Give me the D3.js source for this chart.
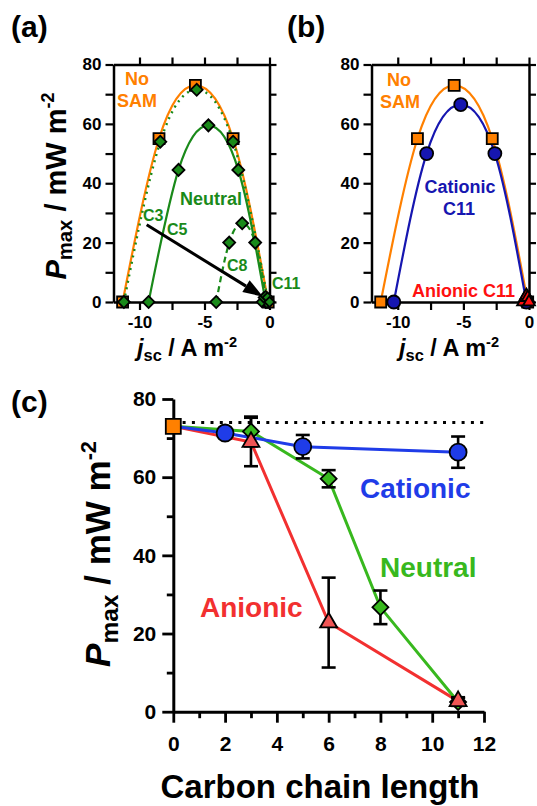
<!DOCTYPE html>
<html>
<head>
<meta charset="utf-8">
<script src="https://cdn.jsdelivr.net/npm/d3@7"></script>
<style>
body { margin: 0; background: #fff; }
svg text { font-family: "Liberation Sans", Arial, Helvetica, sans-serif; font-weight: bold; }
</style>
</head>
<body>
<svg id="fig" width="537" height="806"></svg>
<script>
// ---- panel (a) / (b): power curves, j in A m-2, P in mW m-2
var noSamJ = [-11.3, -8.5, -5.7, -2.8, -0.1];
var noSamP = [0, 55, 73, 55, 0];
var c3J = [-11.2, -8.4, -5.6, -2.8, -0.1];
var c3P = [0, 54, 71.5, 54, 0];
var c5J = [-9.3, -7.0, -4.7, -2.4, -0.3];
var c5P = [0, 44.5, 59.5, 44.5, 0];
var c8J = [-4.1, -3.1, -2.1, -1.1, -0.2];
var c8P = [0, 20, 26.5, 20, 0];
var c11J = [-0.6, -0.45, -0.3, -0.15, 0];
var c11P = [0, 1.5, 2, 1.5, 0];
var catC11J = [-10.3, -7.8, -5.2, -2.6, -0.2];
var catC11P = [0, 50, 66.5, 50, 0];
var anC11J = [-0.45, -0.3, -0.2, -0.1, 0];
var anC11P = [0, 1.5, 2.2, 1.5, 0];

// ---- panel (c): Pmax vs carbon chain length
var noSamC = [0];
var noSamMax = [73];
var catC = [0, 2, 5, 11];
var catMax = [73, 71.3, 67.8, 66.4];
var catErr = [0, 1, 3, 4];
var neuC = [0, 3, 6, 8, 11];
var neuMax = [73, 71.7, 59.6, 26.7, 2.5];
var neuErr = [0, 3.8, 2.2, 4.3, 1];
var anC = [0, 3, 6, 11];
var anMax = [73, 69, 22.8, 2.7];
var anErr = [0, 6.2, 11.5, 1];
var noSamRef = 74;

var yTicksAB = [0, 10, 20, 30, 40, 50, 60, 70, 80];
var xTicksAB = [-10, -7.5, -5, -2.5, 0];
var yTicksC = [0, 10, 20, 30, 40, 50, 60, 70, 80];
var xTicksC = [0, 1, 2, 3, 4, 5, 6, 7, 8, 9, 10, 11, 12];

var ORANGE = '#ff8000', GREEN_A = '#1a8a1a', BLUE_B = '#1616b0', RED_B = '#ff1010';
var BLUE_C = '#1f3ce8', GREEN_C = '#38b81e', RED_C = '#f23030', RED_FILL = '#f05555';

var svg = d3.select('#fig');

function zip(a, b) { return a.map(function(v, i) { return [v, b[i]]; }); }

function drawMarkers(g, pts, x, y, kind, size, fill) {
	var sym;
	if (kind == 'square') sym = d3.symbol().type(d3.symbolSquare).size(size * size);
	else if (kind == 'diamond') sym = d3.symbol().type(d3.symbolSquare).size(size * size / 2);
	else if (kind == 'circle') sym = d3.symbol().type(d3.symbolCircle).size(Math.PI * size * size / 4);
	else sym = d3.symbol().type(d3.symbolTriangle).size(size * size * 0.43);
	g.selectAll(null)
		.data(pts)
		.enter()
		.append('path')
		.attr('d', sym)
		.attr('transform', function(d) {
			return 'translate(' + x(d[0]) + ',' + y(d[1]) + ')' + (kind == 'diamond' ? ' rotate(45)' : '');
		})
		.attr('fill', fill)
		.attr('stroke', '#000')
		.attr('stroke-width', 1.8);
}

function drawCurve(g, pts, x, y, color, dash, width) {
	var line = d3.line()
		.x(function(d) { return x(d[0]); })
		.y(function(d) { return y(d[1]); })
		.curve(d3.curveNatural);
	g.append('path')
		.datum(pts)
		.attr('d', line)
		.attr('fill', 'none')
		.attr('stroke', color)
		.attr('stroke-width', width || 2)
		.attr('stroke-dasharray', dash || null);
}

// box frame with outward ticks on all four sides
function framePanel(g, x, y, showY) {
	var fmt = function(d) { return d % 5 == 0 ? String(d) : ''; };
	var fmtY = function(d) { return showY && d % 20 == 0 ? String(d) : ''; };
	var bottom = g.append('g').attr('transform', 'translate(0,' + y(0) + ')')
		.call(d3.axisBottom(x).tickValues(xTicksAB).tickFormat(fmt).tickSize(8).tickSizeOuter(0).tickPadding(6));
	var top = g.append('g').attr('transform', 'translate(0,' + y(80) + ')')
		.call(d3.axisTop(x).tickValues(xTicksAB).tickFormat('').tickSize(7).tickSizeOuter(0));
	var left = g.append('g').attr('transform', 'translate(' + x(-12) + ',0)')
		.call(d3.axisLeft(y).tickValues(yTicksAB).tickFormat(fmtY).tickSize(8).tickSizeOuter(0).tickPadding(4));
	var right = g.append('g').attr('transform', 'translate(' + x(0) + ',0)')
		.call(d3.axisRight(y).tickValues(yTicksAB).tickFormat('').tickSize(7).tickSizeOuter(0));
	[bottom, top, left, right].forEach(function(a) {
		a.selectAll('path.domain').attr('stroke-width', 2.5).attr('stroke', '#000');
		a.selectAll('line').attr('stroke-width', 2.2).attr('stroke', '#000');
		a.selectAll('text').attr('font-size', 17).attr('font-family', null).attr('fill', '#000');
	});
}

function yTitle(g, tx, ty, size) {
	var t = g.append('text')
		.attr('transform', 'translate(' + tx + ',' + ty + ') rotate(-90)')
		.attr('text-anchor', 'middle')
		.attr('font-size', size);
	t.append('tspan').attr('font-style', 'italic').text('P');
	t.append('tspan').attr('font-size', size * 0.7).attr('dy', size * 0.22).text('max');
	t.append('tspan').attr('dy', -size * 0.22).text(' / mW m');
	t.append('tspan').attr('font-size', size * 0.62).attr('dy', -size * 0.4).text('-2');
}

function jTitle(g, tx, ty, size) {
	var t = g.append('text')
		.attr('x', tx).attr('y', ty)
		.attr('text-anchor', 'middle')
		.attr('font-size', size);
	t.append('tspan').attr('font-style', 'italic').text('j');
	t.append('tspan').attr('font-size', size * 0.7).attr('dy', size * 0.22).text('sc');
	t.append('tspan').attr('dy', -size * 0.22).text(' / A m');
	t.append('tspan').attr('font-size', size * 0.62).attr('dy', -size * 0.4).text('-2');
}

function label(g, tx, ty, txt, size, color, anchor, weight) {
	g.append('text')
		.attr('x', tx).attr('y', ty)
		.attr('font-size', size)
		.attr('fill', color)
		.attr('text-anchor', anchor || 'start')
		.attr('font-weight', weight || 'bold')
		.text(txt);
}

// ================= panel (a)
var xa = d3.scaleLinear().domain([-12, 0]).range([113.5, 269.5]);
var ya = d3.scaleLinear().domain([0, 80]).range([302, 64.5]);
var ga = svg.append('g');
framePanel(ga, xa, ya, true);
drawCurve(ga, zip(noSamJ, noSamP), xa, ya, ORANGE, null, 2.2);
drawCurve(ga, zip(c3J, c3P), xa, ya, GREEN_A, '2,4.5', 2.4);
drawCurve(ga, zip(c5J, c5P), xa, ya, GREEN_A, null, 2.2);
drawCurve(ga, zip(c8J, c8P), xa, ya, GREEN_A, '6,4', 2.2);
drawCurve(ga, zip(c11J, c11P), xa, ya, GREEN_A, '3,2', 1.5);

// arrow C3 -> C11
var arrFrom = [-9.45, 26], arrTo = [-0.5, 1.8];
var ax1 = xa(arrFrom[0]), ay1 = ya(arrFrom[1]), ax2 = xa(arrTo[0]), ay2 = ya(arrTo[1]);
var ang = Math.atan2(ay2 - ay1, ax2 - ax1);
var headL = 20, headW = 7;
var bx = ax2 - headL * Math.cos(ang), by = ay2 - headL * Math.sin(ang);
ga.append('line').attr('x1', ax1).attr('y1', ay1).attr('x2', bx).attr('y2', by)
	.attr('stroke', '#000').attr('stroke-width', 3);
ga.append('path')
	.attr('d', 'M' + ax2 + ',' + ay2 +
		'L' + (bx + headW * Math.sin(ang)) + ',' + (by - headW * Math.cos(ang)) +
		'L' + (bx - headW * Math.sin(ang)) + ',' + (by + headW * Math.cos(ang)) + 'Z')
	.attr('fill', '#000');

drawMarkers(ga, zip(noSamJ, noSamP), xa, ya, 'square', 11, ORANGE);
drawMarkers(ga, zip(c3J, c3P), xa, ya, 'diamond', 12, GREEN_A);
drawMarkers(ga, zip(c5J, c5P), xa, ya, 'diamond', 12, GREEN_A);
drawMarkers(ga, zip(c8J, c8P), xa, ya, 'diamond', 12, GREEN_A);
drawMarkers(ga, zip(c11J, c11P), xa, ya, 'diamond', 10, GREEN_A);

label(ga, 137, 85, 'No', 18, ORANGE, 'middle');
label(ga, 137, 107, 'SAM', 18, ORANGE, 'middle');
label(ga, 180, 205, 'Neutral', 18, GREEN_A);
label(ga, 143, 221, 'C3', 16, GREEN_A, 'start', 'normal');
label(ga, 167, 235, 'C5', 16, GREEN_A, 'start', 'normal');
label(ga, 227, 271, 'C8', 16, GREEN_A, 'start', 'normal');
label(ga, 272, 289, 'C11', 16, GREEN_A, 'start', 'normal');

yTitle(ga, 66, 186, 29);
jTitle(ga, 187, 356, 23.5);

// ================= panel (b)
var xb = d3.scaleLinear().domain([-12, 0]).range([371.5, 529]);
var yb = ya;
var gb = svg.append('g');
framePanel(gb, xb, yb, true);
drawCurve(gb, zip(noSamJ, noSamP), xb, yb, ORANGE, null, 2.2);
drawCurve(gb, zip(catC11J, catC11P), xb, yb, BLUE_B, null, 2.2);
drawCurve(gb, zip(anC11J, anC11P), xb, yb, RED_B, '3,2', 1.5);
drawMarkers(gb, zip(noSamJ, noSamP), xb, yb, 'square', 11, ORANGE);
drawMarkers(gb, zip(catC11J, catC11P), xb, yb, 'circle', 13, BLUE_B);
drawMarkers(gb, zip(anC11J, anC11P), xb, yb, 'triangle', 12, RED_B);

label(gb, 399, 86, 'No', 18, ORANGE, 'middle');
label(gb, 400, 108, 'SAM', 18, ORANGE, 'middle');
label(gb, 460, 193, 'Cationic', 18, BLUE_B, 'middle');
label(gb, 459, 215, 'C11', 18, BLUE_B, 'middle');
label(gb, 412, 297, 'Anionic C11', 18, RED_B);
jTitle(gb, 449, 356, 23.5);

// ================= panel (c)
var xc = d3.scaleLinear().domain([0, 12]).range([173.3, 484]);
var yc = d3.scaleLinear().domain([0, 80]).range([711.7, 399]);
var gc = svg.append('g');

var axB = gc.append('g').attr('transform', 'translate(0,' + yc(0) + ')')
	.call(d3.axisBottom(xc).tickValues(xTicksC).tickFormat(function(d) { return d % 2 == 0 ? String(d) : ''; })
		.tickSize(11).tickSizeOuter(0).tickPadding(13));
axB.selectAll('.tick').filter(function(d) { return d % 2 == 1; }).select('line').attr('y2', 6.5);
var axL = gc.append('g').attr('transform', 'translate(' + xc(0) + ',0)')
	.call(d3.axisLeft(yc).tickValues(yTicksC).tickFormat(function(d) { return d % 20 == 0 ? String(d) : ''; })
		.tickSize(11).tickSizeOuter(0).tickPadding(6));
axL.selectAll('.tick').filter(function(d) { return d % 20 != 0; }).select('line').attr('x2', -6.5);
[axB, axL].forEach(function(a) {
	a.selectAll('path.domain').attr('stroke-width', 3).attr('stroke', '#000');
	a.selectAll('line').attr('stroke-width', 2.8).attr('stroke', '#000');
	a.selectAll('text').attr('font-size', 21).attr('font-family', null).attr('fill', '#000');
});

// reference level of the bare electrode
gc.append('line')
	.attr('x1', xc(0)).attr('x2', xc(12))
	.attr('y1', yc(noSamRef)).attr('y2', yc(noSamRef))
	.attr('stroke', '#000').attr('stroke-width', 3)
	.attr('stroke-dasharray', '3,6.3');

var lineC = d3.line()
	.x(function(d) { return xc(d[0]); })
	.y(function(d) { return yc(d[1]); });

function seriesC(pts, color) {
	gc.append('path').datum(pts).attr('d', lineC)
		.attr('fill', 'none').attr('stroke', color).attr('stroke-width', 3);
}
function errC(pts, err) {
	var eg = gc.append('g').attr('stroke', '#000').attr('stroke-width', 2.6);
	pts.forEach(function(d, i) {
		if (!err[i]) return;
		var cx = xc(d[0]);
		eg.append('line').attr('x1', cx).attr('x2', cx).attr('y1', yc(d[1] - err[i])).attr('y2', yc(d[1] + err[i]));
		eg.append('line').attr('x1', cx - 7).attr('x2', cx + 7).attr('y1', yc(d[1] - err[i])).attr('y2', yc(d[1] - err[i]));
		eg.append('line').attr('x1', cx - 7).attr('x2', cx + 7).attr('y1', yc(d[1] + err[i])).attr('y2', yc(d[1] + err[i]));
	});
}

var anPts = zip(anC, anMax), neuPts = zip(neuC, neuMax), catPts = zip(catC, catMax);
seriesC(anPts, RED_C);
seriesC(neuPts, GREEN_C);
seriesC(catPts, BLUE_C);
errC(anPts, anErr);
errC(neuPts, neuErr);
errC(catPts, catErr);
drawMarkers(gc, neuPts.slice(1), xc, yc, 'diamond', 16, GREEN_C);
drawMarkers(gc, anPts.slice(1), xc, yc, 'triangle', 17, RED_FILL);
drawMarkers(gc, catPts.slice(1), xc, yc, 'circle', 17, BLUE_C);
drawMarkers(gc, zip(noSamC, noSamMax), xc, yc, 'square', 15, ORANGE);

label(gc, 360, 498, 'Cationic', 28, BLUE_C);
label(gc, 380, 577, 'Neutral', 28, GREEN_C);
label(gc, 200, 617, 'Anionic', 28, RED_C);

yTitle(gc, 110, 554, 35);
gc.append('text').attr('x', 320).attr('y', 798).attr('text-anchor', 'middle')
	.attr('font-size', 33).text('Carbon chain length');

// panel letters
label(svg, 11, 37, '(a)', 30, '#000');
label(svg, 287, 37, '(b)', 30, '#000');
label(svg, 11, 412, '(c)', 30, '#000');
</script>
</body>
</html>
